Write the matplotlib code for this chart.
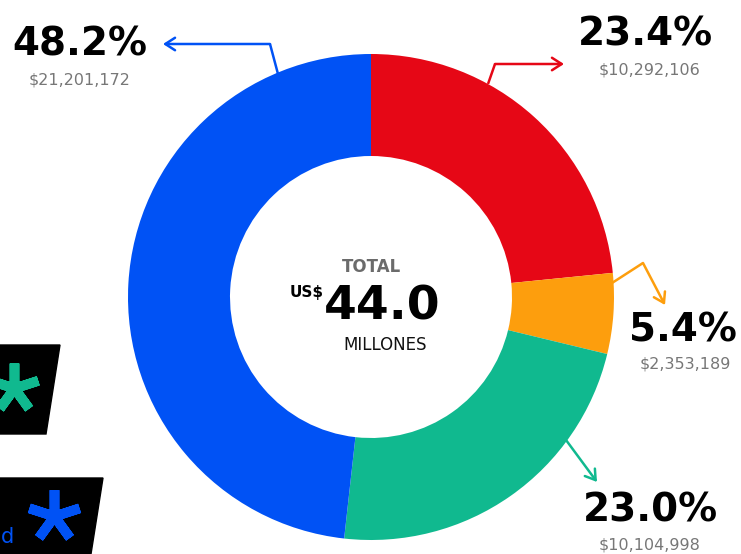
import matplotlib.pyplot as plt
from matplotlib.patches import Polygon

# data
labels = ["Rojo", "Naranja", "Verde", "Azul"]
amounts = [10292106, 2353189, 10104998, 21201172]
colors = ["#e60716", "#fd9e0d", "#10b98f", "#0052f5"]
pct_labels = ["23.4%", "5.4%", "23.0%", "48.2%"]
amount_labels = ["$10,292,106", "$2,353,189", "$10,104,998", "$21,201,172"]
total_label = "44.0"

W, H = 741, 554
fig = plt.figure(figsize=(W / 100, H / 100), dpi=100)
ax = fig.add_axes([0, 0, 1, 1])


def Y(y):
    # pixel row from top -> data y
    return H - y


cx, cy = 371, Y(297)
ax.pie(amounts, colors=colors, startangle=90, counterclock=False,
       center=(cx, cy), radius=243, frame=True,
       wedgeprops=dict(width=102, linewidth=0))
ax.set_xlim(0, W)
ax.set_ylim(0, H)
ax.set_aspect("equal")
ax.axis("off")

# centre text
ax.text(cx, Y(267), "TOTAL", ha="center", va="center", color="#6b6b6b",
        fontsize=12, fontweight="bold")
ax.text(307, Y(292), "US$", ha="center", va="center", color="black",
        fontsize=11, fontweight="heavy")
ax.text(382, Y(307), total_label, ha="center", va="center", color="black",
        fontsize=34, fontweight="heavy")
ax.text(385, Y(345), "MILLONES", ha="center", va="center", color="#111111",
        fontsize=12)

# leader arrows (pixel coords from top)
leaders = [
    [(488, 84), (495, 64), (564, 64)],
    [(612, 283), (643, 263), (665, 305)],
    [(566, 440), (597, 482)],
    [(278, 74), (270, 44), (163, 44)],
]
for pts, c in zip(leaders, colors):
    xs = [p[0] for p in pts[:-1]]
    ys = [Y(p[1]) for p in pts[:-1]]
    ax.plot(xs, ys, color=c, lw=1.8, solid_capstyle="butt")
    ax.annotate("", xy=(pts[-1][0], Y(pts[-1][1])),
                xytext=(pts[-2][0], Y(pts[-2][1])),
                arrowprops=dict(arrowstyle="->,head_length=0.7,head_width=0.45",
                                color=c, lw=1.8, shrinkA=0, shrinkB=0))

# percentage + amount labels
label_pos = [(645, 35, 650, 70), (683, 330, 685, 364), (650, 510, 650, 545), (80, 44, 80, 80)]
for (px, py, ax_, ay), p, a in zip(label_pos, pct_labels, amount_labels):
    ax.text(px, Y(py), p, ha="center", va="center", color="black",
            fontsize=28, fontweight="heavy")
    ax.text(ax_, Y(ay), a, ha="center", va="center", color="#777777",
            fontsize=11.5)

# partial legend boxes at left
ax.add_patch(Polygon([(0, Y(345)), (60, Y(345)), (46, Y(434)), (0, Y(434))],
                     closed=True, color="black"))
ax.add_patch(Polygon([(0, Y(478)), (103, Y(478)), (91, Y(554)), (0, Y(554))],
                     closed=True, color="black"))
ax.plot([14], [Y(388)], marker=(5, 2, 0), ms=36, mew=7, color=colors[2])
ax.plot([54], [Y(516)], marker=(5, 2, 0), ms=38, mew=7, color=colors[3])
ax.text(8, Y(537), "d", ha="center", va="center", color=colors[3], fontsize=15)

fig.savefig("out.png", dpi=100)
